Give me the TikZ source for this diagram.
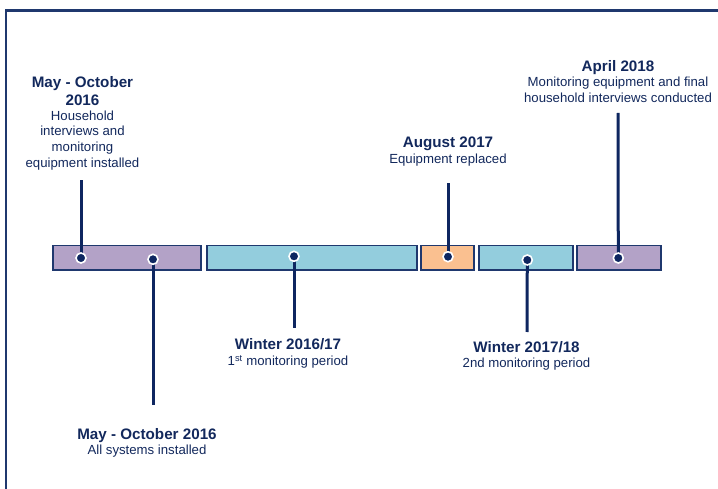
\documentclass[tikz,border=0pt]{standalone}
\usepackage{fontspec}
\setmainfont{Liberation Sans}
\definecolor{navy}{RGB}{14,38,96}
\definecolor{framec}{RGB}{31,56,110}
\definecolor{txtc}{RGB}{18,40,92}
\definecolor{purp}{RGB}{179,162,199}
\definecolor{bluec}{RGB}{147,205,221}
\definecolor{orng}{RGB}{250,192,144}
\pgfdeclarelayer{barlayer}
\pgfdeclarelayer{connlayer}
\pgfsetlayers{barlayer,connlayer,main}
\newcommand{\ttl}{\fontsize{15.2}{15.7}\selectfont\bfseries}
\newcommand{\bdy}{\fontsize{13.2}{15.7}\selectfont\mdseries}
\tikzset{
  bar/.style={draw=framec, line width=1.8pt, rectangle, inner sep=0pt, minimum height=24.5pt},
  dotc/.style={circle, fill=navy, draw=white, line width=1.6pt, inner sep=0pt, minimum size=10pt},
  conn/.style={draw=navy, line width=3pt},
  lbl/.style={align=center, inner sep=0pt, text=txtc, anchor=north, font=\fontsize{13.2}{15.7}\selectfont},
}
\begin{document}
\begin{tikzpicture}[x=1pt,y=-1pt]
\useasboundingbox (0,0) rectangle (718,489);
% frame
\draw[framec, line width=2.4pt] (6,489) -- (6,10.5) -- (718,10.5);
% line ends
\coordinate (e1) at (81,180);
\coordinate (e2) at (153,405);
\coordinate (e3) at (294,328);
\coordinate (e4) at (448,183);
\coordinate (e5) at (527,332);
\coordinate (e6) at (618,113);
% bars
\begin{pgfonlayer}{barlayer}
\node[bar, fill=purp, minimum width=148pt] (b1) at (127,257.7) {};
\node[bar, fill=bluec, minimum width=210pt] (b2) at (312,257.7) {};
\node[bar, fill=orng, minimum width=53pt] (b3) at (447.5,257.7) {};
\node[bar, fill=bluec, minimum width=94pt] (b4) at (526,257.7) {};
\node[bar, fill=purp, minimum width=84pt] (b5) at (619,257.7) {};
\end{pgfonlayer}
% dots
\node[dotc] (d1) at (81,258) {};
\node[dotc] (d2) at (153,259.3) {};
\node[dotc] (d3) at (294,256.3) {};
\node[dotc] (d4) at (448,256.7) {};
\node[dotc] (d5) at (527.3,260) {};
\node[dotc] (d6) at (618.3,258) {};
% connectors: above bars, below dots
\begin{pgfonlayer}{connlayer}
\foreach \i in {1,...,6}{\draw[conn] (d\i.center) -- (e\i);}
\end{pgfonlayer}
% labels
\node[lbl] (l1) at (82.5,76) {\ttl May - October\\[2.3pt]\ttl 2016\\[-0.7pt]\bdy Household\\\bdy interviews and\\\bdy monitoring\\\bdy equipment installed};
\node[lbl] (l2) at (147,428) {\ttl May - October 2016\\\bdy All systems installed};
\node[lbl] (l3) at (288,338) {\ttl Winter 2016/17\\[1pt]\bdy 1\textsuperscript{st} monitoring period};
\node[lbl] (l4) at (448,137) {\ttl August 2017\\\bdy Equipment replaced};
\node[lbl] (l5) at (526.5,341) {\ttl Winter 2017/18\\\bdy 2nd monitoring period};
\node[lbl] (l6) at (618,60) {\ttl April 2018\\\bdy Monitoring equipment and final\\\bdy household interviews conducted};
\end{tikzpicture}
\end{document}
